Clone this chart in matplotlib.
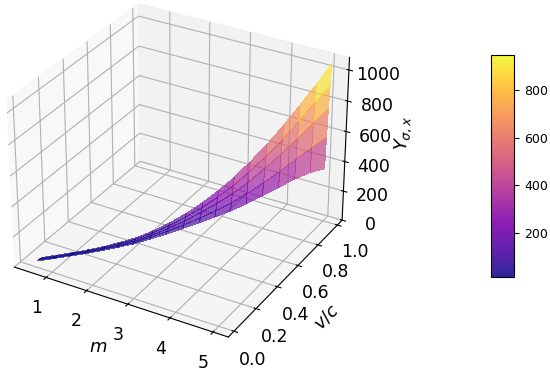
import numpy as np
import matplotlib
matplotlib.use('Agg')
import matplotlib.pyplot as plt
from matplotlib import cm
from matplotlib.colors import Normalize

# valores (la banda va en diagonal en el plano m - v/c)
m_vals = [0.5, 0.75, 1.0, 1.25, 1.5, 1.75, 2.0, 2.25, 2.5, 2.75,
          3.0, 3.25, 3.5, 3.75, 4.0, 4.25, 4.5, 4.75, 5.0]
v_mid = [0.06, 0.11, 0.16, 0.21, 0.26, 0.31, 0.36, 0.42, 0.48, 0.54,
         0.60, 0.65, 0.70, 0.75, 0.81, 0.865, 0.92, 0.97, 1.01]
v_offset = [-0.016, -0.008, 0.0, 0.008, 0.016]
y_row1 = [2, 4, 7, 11, 17, 25, 35, 48, 63, 82, 102, 128, 156, 190, 228, 268, 308, 340, 360]
y_row2 = [2, 4, 8, 12, 19, 28, 40, 56, 76, 100, 130, 165, 205, 255, 310, 370, 435, 500, 560]
y_row3 = [2, 5, 8, 13, 21, 32, 46, 64, 90, 122, 162, 208, 262, 325, 400, 480, 565, 660, 745]
y_row4 = [2, 5, 9, 14, 23, 36, 52, 74, 104, 142, 190, 246, 312, 390, 475, 570, 675, 790, 890]
y_row5 = [2, 5, 9, 15, 25, 39, 57, 83, 118, 163, 218, 285, 362, 452, 550, 660, 780, 900, 1030]
cbar_ticks = [200, 400, 600, 800]

M = np.tile(np.array(m_vals), (5, 1))
V = np.array([np.array(v_mid) + d for d in v_offset])
Y = np.array([y_row1, y_row2, y_row3, y_row4, y_row5])

fig = plt.figure(figsize=(5.5, 3.73), dpi=100)
ax = fig.add_axes([-0.07, 0.035, 0.78, 1.03], projection='3d')
ax.set_box_aspect((4, 4, 3.1))
norm = Normalize(15, 950)
ax.plot_surface(M, V, Y, cmap='plasma', norm=norm, alpha=0.65, linewidth=0,
                antialiased=False, rstride=1, cstride=1)

ax.set_xlim(0.2, 5.35)
ax.set_ylim(-0.05, 1.05)
ax.set_zlim(0, 1080)
ax.set_xticks([1, 2, 3, 4, 5])
ax.set_yticks([0, 0.2, 0.4, 0.6, 0.8, 1.0])
ax.set_zticks([0, 200, 400, 600, 800, 1000])
ax.tick_params(labelsize=12.5, pad=3)
ax.yaxis.set_tick_params(pad=4)
ax.zaxis.set_tick_params(pad=5)
ax.set_xlabel(r'$m$', fontsize=13, labelpad=2)
ax.set_ylabel(r'$v/c$', fontsize=13, labelpad=5)
ax.set_zlabel(r'$Y_{\sigma,x}$', fontsize=13, labelpad=5)

cax = fig.add_axes([0.893, 0.258, 0.042, 0.595])
cb = fig.colorbar(cm.ScalarMappable(norm=norm, cmap='plasma'), cax=cax, alpha=0.88)
cb.set_ticks(cbar_ticks)
cb.ax.tick_params(labelsize=9)

fig.savefig('out.png', dpi=100)
